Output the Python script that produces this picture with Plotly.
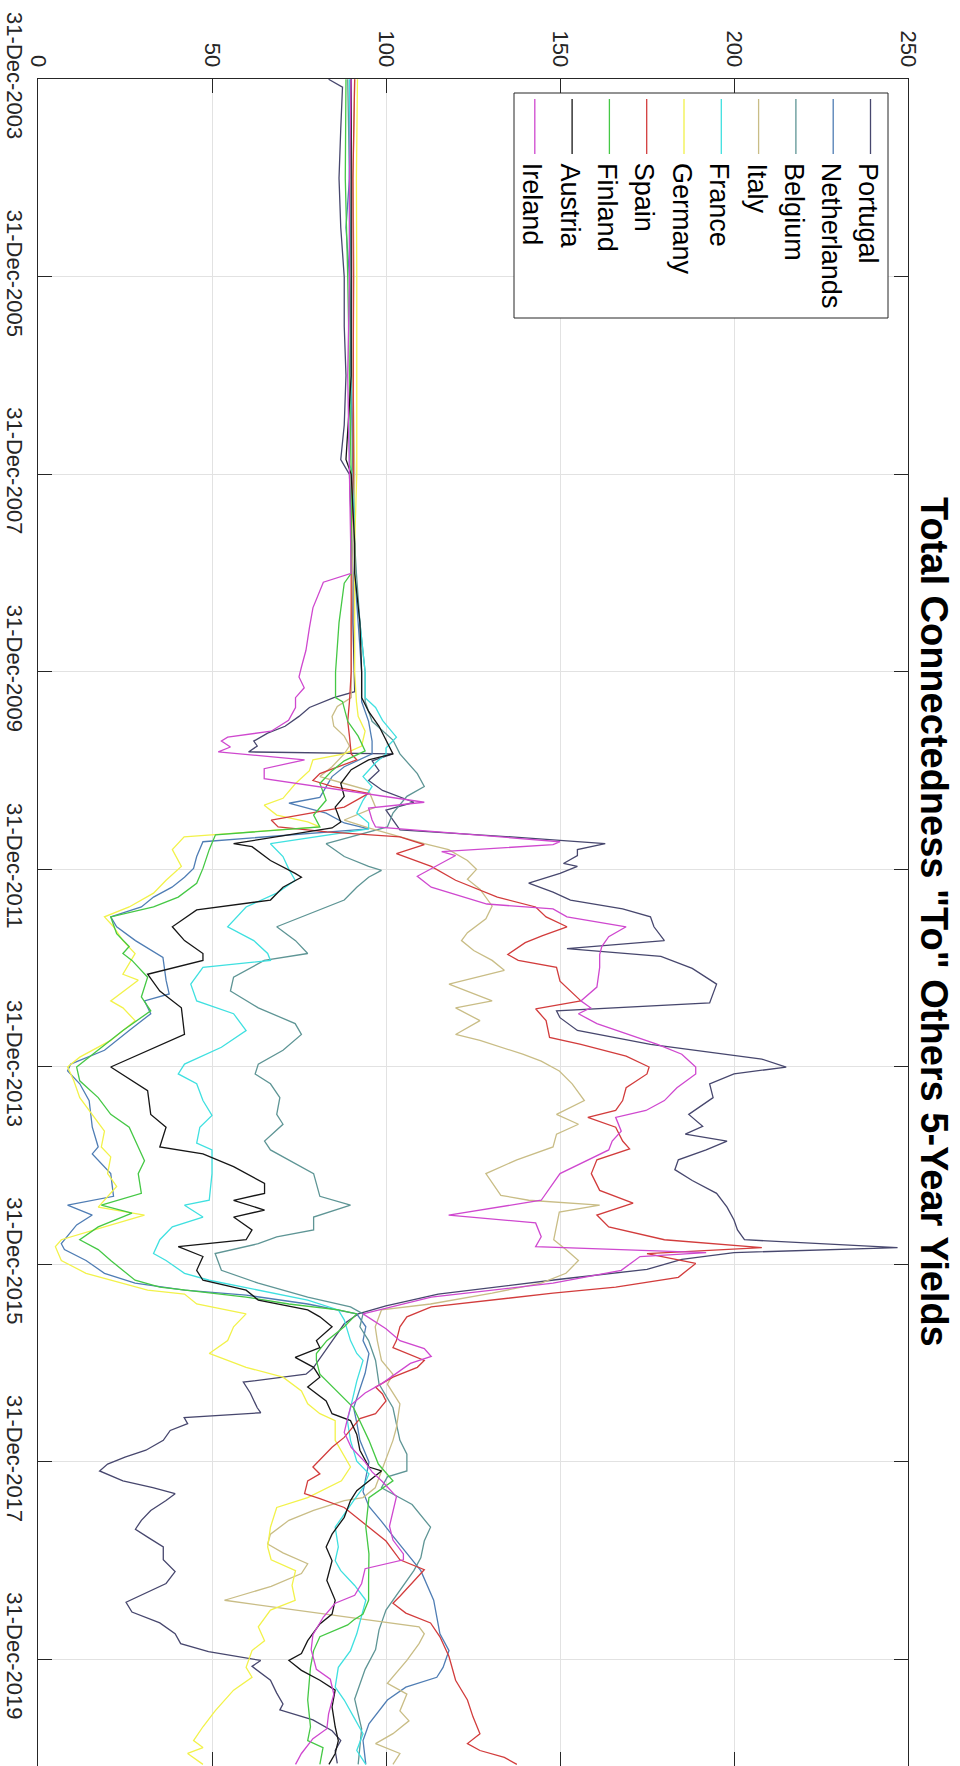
import plotly.graph_objects as go
import pandas as pd

# ---------------- data: (decimal year, value) ----------------
PORTUGAL = [(2004.0,83.5),(2004.08,87.5),(2004.5,87),(2005.0,86.5),(2005.5,87),(2006.0,88),(2006.5,88),(2007.0,88.5),(2007.5,88),(2007.85,87),
 (2008.0,89.5),(2008.5,90),(2009.0,90.5),(2009.5,90.5),(2010.0,91),(2010.2,91),(2010.26,85),(2010.3,82),(2010.36,78),(2010.45,75),
 (2010.55,71),(2010.62,66),(2010.7,62),(2010.75,63),(2010.81,60.5),(2010.83,102),(2010.9,96),(2011.0,98),(2011.1,95),(2011.2,99),
 (2011.32,108),(2011.4,100),(2011.5,102),(2011.6,104),(2011.68,140),(2011.74,163),(2011.8,155),(2011.86,155),(2011.94,151),(2011.97,155),
 (2012.04,150),(2012.14,141),(2012.23,148),(2012.31,153),(2012.4,168),(2012.48,176),(2012.58,177),(2012.72,180),(2012.8,152),(2012.88,179),
 (2013.0,188),(2013.16,195),(2013.35,193),(2013.43,149),(2013.5,150),(2013.63,155),(2013.77,176),(2013.83,189),(2013.92,208),(2014.0,215),
 (2014.07,200),(2014.17,193),(2014.31,194),(2014.48,187),(2014.6,191),(2014.68,186),(2014.75,198),(2014.84,192),(2014.94,184),(2015.04,183),
 (2015.15,188),(2015.28,195),(2015.42,198),(2015.55,200),(2015.65,201),(2015.75,203),(2015.83,247),(2015.88,200),(2015.95,185),(2016.05,175),
 (2016.15,150),(2016.3,115),(2016.42,100),(2016.5,92),(2016.6,88),(2016.75,85),(2016.9,82),(2017.05,79),(2017.11,77),(2017.19,59),
 (2017.3,61),(2017.45,63),(2017.5,64),(2017.55,42),(2017.61,43),(2017.68,38),(2017.78,36),(2017.88,31),(2017.95,25),(2018.02,20),
 (2018.09,17.7),(2018.19,24.4),(2018.26,33),(2018.32,39.4),(2018.39,36.8),(2018.49,32.4),(2018.59,29.7),(2018.68,28),(2018.76,31.5),(2018.86,36),
 (2018.99,36),(2019.11,39.4),(2019.23,36.8),(2019.31,32),(2019.42,25.3),(2019.52,27),(2019.63,35),(2019.74,39.4),(2019.84,41),(2019.92,49),
 (2020.01,64),(2020.07,61.5),(2020.21,66.8),(2020.34,68.6),(2020.45,70.4),(2020.51,69.5),(2020.61,79),(2020.72,84.5),(2020.82,87),(2020.92,85.4),
 (2021.05,86)]

NETHERLANDS = [(2004.0,90),(2005.0,89.5),(2005.5,88.5),(2006.0,89.5),(2007.0,90),(2008.0,90.5),(2008.7,91),(2009.0,91),(2009.5,92),(2010.0,93),
 (2010.3,93),(2010.5,95),(2010.7,96),(2010.83,96),(2010.96,88),(2011.06,84.5),(2011.27,81),(2011.33,72.1),(2011.43,82.8),(2011.53,88),
 (2011.59,95),(2011.72,47.4),(2011.87,45.6),(2011.99,44.7),(2012.08,42.1),(2012.18,38.5),(2012.28,33.2),(2012.38,29.7),(2012.48,20.9),(2012.58,22.6),
 (2012.72,28),(2012.85,34),(2012.89,35.9),(2013.12,36.8),(2013.26,37.7),(2013.33,30.6),(2013.46,32.4),(2013.63,26.2),(2013.83,19.1),(2013.97,9.4),
 (2014.04,8.5),(2014.17,12),(2014.34,14.7),(2014.61,15.6),(2014.81,17.3),(2014.88,15.6),(2015.08,20.9),(2015.31,21.7),(2015.4,8.5),(2015.5,15.6),
 (2015.6,11.1),(2015.79,6.7),(2015.85,7.6),(2015.96,13.8),(2016.09,19.1),(2016.19,27.9),(2016.26,42.1),(2016.31,59.8),(2016.4,77.5),(2016.5,91.6),
 (2016.63,94.2),(2016.77,93.4),(2016.9,95.1),(2017.1,94),(2017.45,90.7),(2017.6,91.6),(2017.78,92.5),(2018.0,95.1),(2018.15,94.2),(2018.3,93.4),
 (2018.45,95.1),(2018.6,98.7),(2018.75,102),(2018.93,106),(2019.1,110),(2019.4,113.7),(2019.74,115.5),(2019.91,118.1),(2020.08,116.4),(2020.18,114.6),
 (2020.28,105.7),(2020.41,100.4),(2020.65,95.1),(2020.82,93.4),(2021.06,94.2)]

BELGIUM = [(2004.0,89),(2005.0,89.5),(2006.0,89.5),(2007.0,90),(2008.0,90.5),(2008.7,91),(2009.0,91.5),(2009.5,92.5),(2010.0,94),(2010.3,94),
 (2010.5,96),(2010.69,102),(2010.83,104),(2011.03,109),(2011.16,111),(2011.26,106),(2011.43,102),(2011.57,100.4),(2011.74,82.8),(2011.87,88),
 (2011.97,95),(2012.01,98.7),(2012.08,95),(2012.18,91.6),(2012.31,88),(2012.41,81),(2012.51,73.9),(2012.58,68.6),(2012.72,74),(2012.85,77.5),
 (2012.92,65),(2013.09,56.2),(2013.23,55.3),(2013.4,63.3),(2013.56,73.9),(2013.67,75.7),(2013.83,70.4),(2013.97,63.3),(2014.07,62.4),(2014.17,66.8),
 (2014.31,69.5),(2014.48,68.6),(2014.58,70.4),(2014.75,65.1),(2014.84,66.8),(2015.08,79.2),(2015.31,81),(2015.4,89.8),(2015.52,79.2),(2015.65,79.2),
 (2015.72,68.6),(2015.79,63.3),(2015.89,50.9),(2016.06,52.7),(2016.19,63.3),(2016.33,77.5),(2016.43,89.8),(2016.5,93.4),(2016.63,92.5),(2016.77,95),
 (2016.97,97),(2017.21,98),(2017.45,102),(2017.78,104),(2017.92,106),(2018.09,106),(2018.15,100.4),(2018.26,98.7),(2018.43,107.5),(2018.66,112.8),
 (2018.8,111),(2018.97,110),(2019.1,108),(2019.3,104),(2019.5,100),(2019.7,98),(2019.9,97),(2020.1,94),(2020.4,91),(2020.7,93),
 (2021.06,92)]

ITALY = [(2004.0,91),(2005.0,90.5),(2006.0,90.8),(2007.0,90.5),(2008.0,91),(2008.7,90.5),(2009.5,90),(2010.0,90),(2010.26,90),(2010.35,86),
 (2010.45,84.5),(2010.55,85),(2010.65,88),(2010.75,89.5),(2010.83,88),(2010.96,84.5),(2011.06,81),(2011.13,88),(2011.2,95),(2011.37,97),
 (2011.5,88),(2011.58,95),(2011.74,111),(2011.8,118),(2011.91,123.4),(2012.0,126),(2012.1,123.4),(2012.2,127),(2012.37,130.5),(2012.5,128.7),
 (2012.64,123.4),(2012.72,121.7),(2012.82,125.2),(2012.92,130.5),(2013.02,134),(2013.16,118.1),(2013.33,130.5),(2013.4,120),(2013.53,127),(2013.67,120),
 (2013.73,127),(2013.87,139.3),(2013.94,144.6),(2014.04,149.8),(2014.17,153.5),(2014.34,157),(2014.48,149),(2014.58,155.3),(2014.68,149),(2014.81,148),
 (2014.94,137.6),(2015.08,128.7),(2015.3,133),(2015.35,141),(2015.4,161.4),(2015.47,149.8),(2015.62,149),(2015.75,148.2),(2015.85,151.7),(2015.96,155.3),
 (2016.09,151.7),(2016.19,144.6),(2016.29,130.5),(2016.4,112.8),(2016.46,98.7),(2016.63,96.9),(2016.77,97.5),(2016.97,98.7),(2017.11,102),(2017.21,100.4),
 (2017.41,104),(2017.65,103),(2017.78,102),(2018.02,99.5),(2018.26,96.9),(2018.36,93.4),(2018.39,88),(2018.49,79.2),(2018.59,72.1),(2018.73,66.8),
 (2018.83,66),(2018.92,70.4),(2019.03,77.5),(2019.13,75.7),(2019.26,67),(2019.4,53.6),(2019.67,109.5),(2019.74,111),(2019.84,109.5),(2020.01,106),
 (2020.18,102),(2020.24,100.4),(2020.35,106),(2020.52,104),(2020.62,106.6),(2020.75,102),(2020.85,97),(2020.95,104),(2021.06,102)]

FRANCE = [(2004.0,89.5),(2005.0,89.5),(2006.0,90),(2007.0,90),(2007.9,89.5),(2008.0,90.5),(2008.7,91),(2009.0,91),(2009.5,92.5),(2010.0,94),
 (2010.26,94),(2010.36,97),(2010.49,99),(2010.66,103),(2010.77,100),(2010.83,100),(2010.92,97),(2011.06,93.4),(2011.16,96),(2011.3,93.4),
 (2011.43,91.6),(2011.53,95),(2011.59,95),(2011.74,66.8),(2011.87,70.4),(2012.0,72.1),(2012.11,73.9),(2012.24,68.6),(2012.38,59.8),(2012.58,54.5),
 (2012.72,62),(2012.85,66),(2012.92,66.8),(2012.99,47.4),(2013.16,43.9),(2013.33,45.6),(2013.46,56.2),(2013.63,59.8),(2013.8,52.7),(2013.97,42.1),
 (2014.07,40.3),(2014.17,45.6),(2014.34,47.4),(2014.49,50),(2014.61,46.5),(2014.77,45.6),(2014.84,50),(2015.08,50),(2015.35,49.2),(2015.4,42.1),
 (2015.52,47.4),(2015.62,38.6),(2015.75,35),(2015.89,33.2),(2015.96,36.8),(2016.09,42.1),(2016.16,49.2),(2016.26,63.3),(2016.36,77.5),(2016.46,86.3),
 (2016.56,88),(2016.77,89.8),(2016.9,91.6),(2016.97,93.4),(2017.18,91.6),(2017.45,89.8),(2017.58,88.9),(2017.78,89.8),(2017.99,91.6),(2018.12,95.1),
 (2018.26,93.4),(2018.39,90.7),(2018.53,88),(2018.66,85.4),(2018.86,86.3),(2019.0,85.4),(2019.1,87),(2019.25,91),(2019.4,94.2),(2019.74,91.6),
 (2019.91,89.8),(2020.08,86.3),(2020.28,85.4),(2020.41,88),(2020.58,90.7),(2020.75,93.4),(2020.92,91.6),(2021.06,94.2)]

GERMANY = [(2004.0,91.8),(2005.0,91.5),(2006.0,91.6),(2007.0,91.5),(2008.0,91.6),(2008.7,91),(2009.5,91),(2010.0,91),(2010.3,91.5),(2010.45,92),
 (2010.6,94),(2010.75,93),(2010.83,88),(2010.89,79),(2011.0,78),(2011.13,74),(2011.28,70.4),(2011.35,65),(2011.45,68.6),(2011.52,77.5),
 (2011.57,81),(2011.67,42),(2011.8,38.6),(2011.97,41.2),(2012.11,36.8),(2012.24,33.2),(2012.38,26.2),(2012.48,19.1),(2012.58,21.7),(2012.72,24.4),
 (2012.85,27.9),(2013.06,24.4),(2013.12,28.8),(2013.33,20.9),(2013.4,24.4),(2013.53,27.9),(2013.73,20.9),(2013.9,12),(2014.0,8.5),(2014.14,10.3),
 (2014.31,12),(2014.48,15.6),(2014.65,19.1),(2014.81,18.2),(2014.91,20.9),(2015.08,20),(2015.21,22.6),(2015.42,17.3),(2015.5,30.6),(2015.62,19.1),
 (2015.75,6.7),(2015.82,5),(2015.96,6.7),(2016.09,13.8),(2016.19,24.4),(2016.26,31.5),(2016.3,42.1),(2016.4,45.6),(2016.5,59.8),(2016.63,56.2),
 (2016.77,54.5),(2016.9,49.2),(2017.04,59.8),(2017.14,70.4),(2017.28,75.7),(2017.41,77.5),(2017.51,81),(2017.58,85.4),(2017.78,85.4),(2018.05,89.8),
 (2018.19,87.2),(2018.36,77.5),(2018.46,68.6),(2018.66,66.8),(2018.86,66),(2018.99,67),(2019.1,74),(2019.25,73),(2019.4,73.9),(2019.5,66.8),
 (2019.67,63.3),(2019.81,65.1),(2019.91,61.5),(2020.08,59.8),(2020.18,61.5),(2020.31,56.2),(2020.52,50.9),(2020.68,47.4),(2020.82,44.7),(2020.89,47.4),
 (2020.95,43),(2021.06,47.4)]

SPAIN = [(2004.0,91),(2005.0,90.5),(2006.0,90.6),(2007.0,90.5),(2008.0,90.6),(2008.7,90),(2009.5,90),(2010.0,90),(2010.3,89.5),(2010.5,89),
 (2010.65,89.5),(2010.83,90),(2010.89,91.6),(2011.03,81),(2011.1,79),(2011.16,84.5),(2011.23,95),(2011.37,88),(2011.5,67),(2011.57,69),
 (2011.62,83),(2011.67,104),(2011.75,111),(2011.84,103),(2011.97,113),(2012.11,120),(2012.28,132),(2012.38,143),(2012.48,146),(2012.58,152),
 (2012.67,145),(2012.74,140),(2012.86,135),(2012.92,138),(2012.99,149),(2013.13,150),(2013.33,156),(2013.41,143),(2013.53,146),(2013.7,147),
 (2013.77,156),(2013.89,169),(2014.0,175.6),(2014.07,175),(2014.21,169),(2014.34,168),(2014.44,166),(2014.51,158),(2014.61,166),(2014.75,168),
 (2014.83,170),(2014.94,160.6),(2015.08,159),(2015.25,161.4),(2015.38,171),(2015.5,160.6),(2015.62,164),(2015.75,180),(2015.83,208),(2015.89,175),
 (2015.99,189),(2016.13,184),(2016.23,166),(2016.29,148),(2016.43,113),(2016.53,106),(2016.63,104),(2016.77,103),(2016.84,102),(2016.97,111),
 (2017.04,109),(2017.14,102),(2017.24,97),(2017.31,99),(2017.38,100),(2017.51,97),(2017.56,92.5),(2017.75,88),(2017.85,84.5),(2018.05,79),
 (2018.12,81),(2018.19,77.5),(2018.32,76.6),(2018.37,81),(2018.46,88),(2018.66,95),(2018.8,100),(2018.99,104),(2019.09,111),(2019.36,104),
 (2019.43,102),(2019.53,105.7),(2019.63,112.8),(2019.77,115.5),(2019.97,118.1),(2020.21,120),(2020.41,123.4),(2020.58,125),(2020.75,127),(2020.85,123.4),
 (2020.92,127),(2020.99,134),(2021.06,137.6)]

FINLAND = [(2004.0,88.5),(2004.5,88.5),(2005.0,88.3),(2006.0,89),(2007.0,89.5),(2008.0,90),(2008.7,90),(2009.0,90),(2009.1,88),(2009.5,86.5),
 (2010.0,85.5),(2010.26,85.5),(2010.3,87.5),(2010.5,89),(2010.65,92),(2010.8,94),(2010.9,88),(2011.0,84.5),(2011.13,81),(2011.3,82.8),
 (2011.45,79.2),(2011.57,81),(2011.65,51),(2011.8,49.2),(2011.99,47.4),(2012.14,45.6),(2012.28,40.3),(2012.38,33.2),(2012.48,20.9),(2012.65,22.6),
 (2012.78,26.2),(2012.85,24.4),(2012.92,27),(2013.09,31.5),(2013.29,29.7),(2013.43,32.4),(2013.63,24.4),(2013.87,15.6),(2014.0,11.1),(2014.14,12),
 (2014.31,17.3),(2014.48,20.9),(2014.61,26.2),(2014.81,28.8),(2014.95,30.6),(2015.08,28.8),(2015.28,29.7),(2015.4,18.2),(2015.48,27),(2015.62,17.3),
 (2015.75,12),(2015.85,17.3),(2015.96,20.9),(2016.16,27.9),(2016.23,35),(2016.33,59.8),(2016.4,72.1),(2016.46,86.3),(2016.5,91.6),(2016.63,88),
 (2016.77,83),(2016.9,80),(2016.97,80),(2017.11,81),(2017.45,90.7),(2017.78,95.1),(2018.02,97.8),(2018.19,102),(2018.36,95.1),(2018.66,94.2),
 (2018.93,95.1),(2019.2,95),(2019.4,95),(2019.54,93.4),(2019.6,90.7),(2019.65,89),(2019.77,81),(2019.91,79.2),(2020.08,78.3),(2020.41,77.5),
 (2020.68,78.3),(2020.82,77.5),(2020.89,81.9),(2021.06,81)]

AUSTRIA = [(2004.0,90),(2005.0,90),(2006.0,90),(2007.0,90),(2007.85,88.5),(2008.0,90),(2008.7,91),(2009.0,91),(2009.5,92.5),(2010.0,93),
 (2010.26,93),(2010.4,95),(2010.55,98),(2010.69,100),(2010.83,102),(2010.89,95),(2010.99,90),(2011.13,87),(2011.26,88),(2011.37,85.4),
 (2011.52,87),(2011.58,84.5),(2011.74,56.2),(2011.77,61.5),(2011.91,66.8),(2012.04,73.9),(2012.08,75.7),(2012.18,70.4),(2012.31,66.8),(2012.41,45.6),
 (2012.58,38.6),(2012.72,42.1),(2012.85,47.4),(2012.92,47.4),(2013.06,31.5),(2013.23,35),(2013.4,41.2),(2013.67,42.1),(2013.97,22.6),(2014.0,20.9),
 (2014.24,31.5),(2014.48,32.4),(2014.61,36.8),(2014.81,35),(2014.88,47.4),(2015.01,56.2),(2015.18,65.1),(2015.28,65.1),(2015.35,56.2),(2015.45,65.1),
 (2015.52,56.2),(2015.65,61.5),(2015.75,59.8),(2015.82,40.3),(2015.92,47.4),(2016.06,45.6),(2016.16,47.4),(2016.26,59.8),(2016.36,63.3),(2016.46,77.5),
 (2016.53,81),(2016.63,84.5),(2016.77,80),(2016.84,81),(2016.94,73.9),(2017.04,79.2),(2017.14,81),(2017.24,77.5),(2017.38,82.8),(2017.51,84.5),
 (2017.58,89.8),(2017.72,91.6),(2017.88,92.5),(2018.05,95.1),(2018.09,98.7),(2018.19,95.1),(2018.29,91.6),(2018.39,89.8),(2018.56,88),(2018.73,84.5),
 (2018.86,82.8),(2019.0,84.5),(2019.2,83),(2019.4,85.4),(2019.54,84.5),(2019.64,81),(2019.81,77.5),(2019.94,75.7),(2020.01,72.1),(2020.11,75.7),
 (2020.21,81),(2020.31,85.4),(2020.48,84.5),(2020.68,85.4),(2020.82,86.3),(2020.95,85.4),(2021.06,83.6)]

IRELAND = [(2004.0,90),(2005.0,89.5),(2006.0,89.5),(2007.0,89),(2008.0,89.5),(2008.7,90),(2009.0,90),(2009.09,82),(2009.35,79),(2009.55,78),
 (2009.78,77),(2009.95,75.7),(2010.05,75),(2010.16,76.5),(2010.26,74),(2010.36,74),(2010.49,72),(2010.6,67),(2010.66,54.5),(2010.7,52.7),
 (2010.76,55.3),(2010.81,51.8),(2010.89,76.6),(2010.98,65),(2011.08,65),(2011.32,111),(2011.38,95),(2011.5,96),(2011.57,97),(2011.72,150),
 (2011.75,148),(2011.82,116),(2011.86,120),(2012.07,109),(2012.18,113),(2012.35,129),(2012.4,148),(2012.48,152),(2012.58,169),(2012.68,164),
 (2012.78,162),(2012.86,161.4),(2012.99,161.4),(2013.19,160.6),(2013.33,156),(2013.4,158.8),(2013.46,155.3),(2013.56,160.6),(2013.67,169.4),(2013.77,178),
 (2013.87,185),(2014.0,189),(2014.07,189),(2014.21,183.6),(2014.34,180),(2014.44,174.7),(2014.51,166),(2014.65,167.6),(2014.75,165),(2014.84,164),
 (2015.08,150),(2015.35,144.6),(2015.5,118),(2015.58,143),(2015.72,144.6),(2015.82,143),(2015.88,192),(2015.92,173),(2016.06,167.6),(2016.19,148),
 (2016.33,113),(2016.5,93.4),(2016.65,100),(2016.77,104),(2016.85,111),(2016.93,113),(2017.0,107),(2017.1,103),(2017.2,99),(2017.3,94),
 (2017.42,90),(2017.55,89),(2017.7,88),(2017.85,90),(2018.0,94),(2018.1,96),(2018.2,99),(2018.35,103),(2018.5,102),(2018.65,101),
 (2018.79,102),(2018.93,105),(2018.99,105),(2019.08,94),(2019.23,93),(2019.35,91),(2019.43,85.4),(2019.57,82),(2019.75,79),(2019.9,78.5),
 (2020.1,80),(2020.2,84),(2020.35,85),(2020.55,83.5),(2020.7,83),(2020.8,79),(2020.95,75.7),(2021.06,74)]

NAMES = ["Portugal", "Netherlands", "Belgium", "Italy", "France", "Germany", "Spain", "Finland", "Austria", "Ireland"]
COLORS = ["#47476e", "#4f7db4", "#5e9595", "#c9bd86", "#3fe0e0", "#f2f24a", "#d23c3c", "#45c845", "#161616", "#cf48cf"]
SERIES = [PORTUGAL, NETHERLANDS, BELGIUM, ITALY, FRANCE, GERMANY, SPAIN, FINLAND, AUSTRIA, IRELAND]

VALUE_TICKS = [0, 50, 100, 150, 200, 250]
DATE_TICKS = ["2003-12-31", "2005-12-31", "2007-12-31", "2009-12-31", "2011-12-31",
              "2013-12-31", "2015-12-31", "2017-12-31", "2019-12-31"]
DATE_LABELS = ["31-Dec-2003", "31-Dec-2005", "31-Dec-2007", "31-Dec-2009", "31-Dec-2011",
               "31-Dec-2013", "31-Dec-2015", "31-Dec-2017", "31-Dec-2019"]
DATE_RANGE = ["2021-01-29", "2003-12-31"]
TITLE = 'Total Connectedness "To" Others 5-Year Yields'


def to_date(y):
    yi = int(y)
    a = pd.Timestamp(yi, 1, 1)
    b = pd.Timestamp(yi + 1, 1, 1)
    return a + (b - a) * (y - yi)


W, H = 960, 1766
L, R, T, B = 38, 52, 79, 0
PW, PH = W - L - R, H - T - B


def px(x):
    return (x - L) / PW


def py(y):
    return (H - B - y) / PH


FONT = "Liberation Sans, Arial, Helvetica, sans-serif"
INK = "#262626"

fig = go.Figure()
for name, pts, col in zip(NAMES, SERIES, COLORS):
    fig.add_trace(go.Scatter(
        x=[p[1] for p in pts], y=[to_date(p[0]) for p in pts],
        mode="lines", name=name, showlegend=False, hoverinfo="skip",
        line=dict(color=col, width=1.3)))

shapes = []
annotations = []

# legend box
LX0, LX1, LY0, LY1 = 514, 888, 93, 318
shapes.append(dict(type="rect", xref="paper", yref="paper",
                   x0=px(LX0), x1=px(LX1), y0=py(LY1), y1=py(LY0),
                   fillcolor="white", line=dict(color=INK, width=1), layer="above"))
for i, (name, col) in enumerate(zip(NAMES, COLORS)):
    cx = 870.5 - i * 37.3
    shapes.append(dict(type="line", xref="paper", yref="paper",
                       x0=px(cx), x1=px(cx), y0=py(99), y1=py(154),
                       line=dict(color=col, width=1.3), layer="above"))
    annotations.append(dict(xref="paper", yref="paper", x=px(cx - 2), y=py(161),
                            text=name, showarrow=False, textangle=90,
                            xanchor="center", yanchor="top",
                            font=dict(family=FONT, size=27, color="#000000")))

# title
annotations.append(dict(xref="paper", yref="paper", x=px(934), y=py(922),
                        text="<b>" + TITLE + "</b>", showarrow=False, textangle=90,
                        xanchor="center", yanchor="middle",
                        font=dict(family=FONT, size=38, color="#000000")))

fig.update_layout(
    width=W, height=H,
    margin=dict(l=L, r=R, t=T, b=B, pad=0, autoexpand=False),
    paper_bgcolor="white", plot_bgcolor="white",
    font=dict(family=FONT, color=INK),
    shapes=shapes, annotations=annotations,
    xaxis=dict(range=[0, 250], side="top", tickvals=VALUE_TICKS,
               ticktext=[str(v) for v in VALUE_TICKS], tickangle=90,
               ticks="inside", ticklen=14, tickcolor=INK, tickwidth=1,
               showline=True, linecolor=INK, linewidth=1, mirror="allticks",
               showgrid=True, gridcolor="#e2e2e2", gridwidth=1, zeroline=False,
               ticklabelstandoff=3, automargin=False,
               tickfont=dict(size=22, color=INK, family=FONT)),
    yaxis=dict(type="date", range=DATE_RANGE, tickvals=DATE_TICKS, ticktext=DATE_LABELS,
               tickangle=90, ticks="inside", ticklen=14, tickcolor=INK, tickwidth=1,
               showline=True, linecolor=INK, linewidth=1, mirror="allticks",
               showgrid=True, gridcolor="#e2e2e2", gridwidth=1, zeroline=False,
               ticklabelstandoff=4, automargin=False,
               tickfont=dict(size=22, color=INK, family=FONT)),
    showlegend=False,
)

fig.write_html("out.html", config={"displayModeBar": False, "staticPlot": True},
               post_script="document.body.style.margin='0px';document.body.style.overflow='hidden';")
